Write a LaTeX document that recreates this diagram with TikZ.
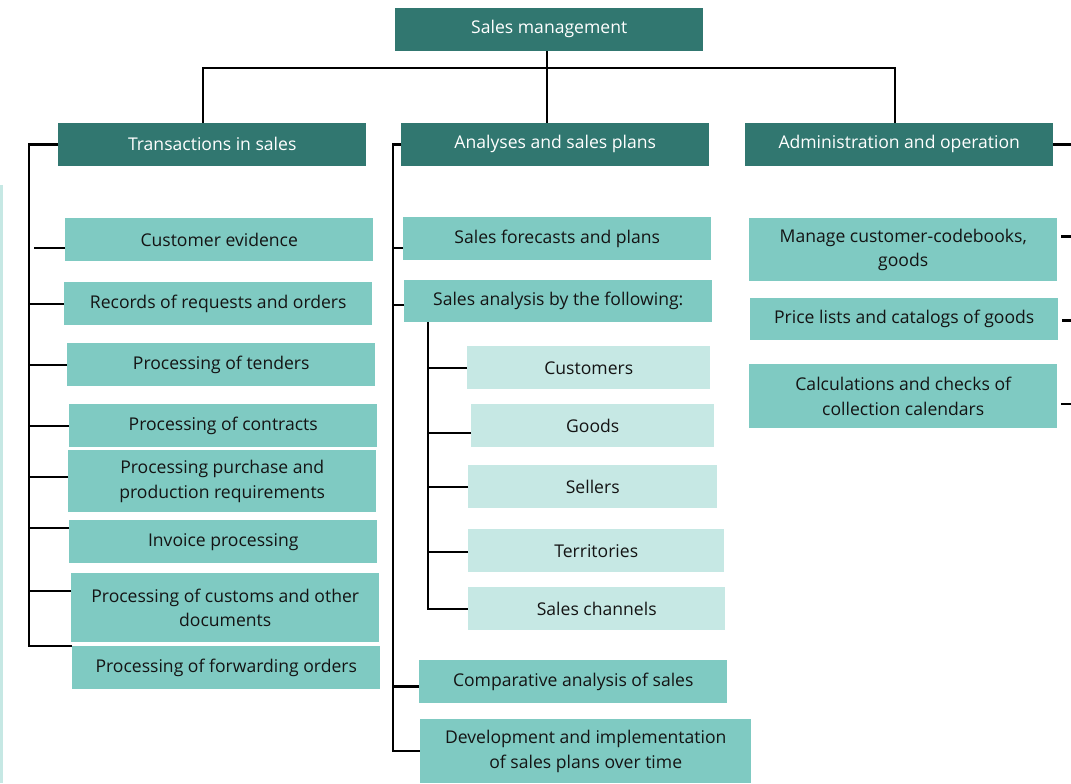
\documentclass[tikz,border=0pt]{standalone}
\usepackage{fontspec}
\setmainfont{Open Sans}
\usetikzlibrary{positioning}
\definecolor{headteal}{RGB}{49,119,112}
\definecolor{itemteal}{RGB}{127,202,194}
\definecolor{subteal}{RGB}{198,232,228}

\begin{document}
\begin{tikzpicture}[
  x=0.03cm, y=-0.03cm,
  box/.style={anchor=north west, align=center, inner sep=0pt, minimum width=9.24cm, minimum height=1.29cm, font=\fontsize{15}{21}\selectfont, text=black!92},
  head/.style={box, fill=headteal, text=white, minimum height=1.27cm},
  item/.style={box, fill=itemteal},
  sub/.style={box, fill=subteal, minimum width=7.29cm},
  link/.style={line width=2pt}
]
\useasboundingbox (0,0) rectangle (1071,783);
\fill[subteal] (0,185) rectangle (3,783);

% top level
\node[head] (root) at (395,8) {Sales management};
\node[head] (trans) at (58,123) {Transactions in sales};
\node[head] (anal) at (401,123) {Analyses and sales plans};
\node[head] (adm) at (745,123) {Administration and operation};

% transactions
\node[item] (cust) at (65,218) {Customer evidence};
\node[item] (recs) at (64,282) {Records of requests and orders};
\node[item] (tend) at (67,343) {Processing of tenders};
\node[item] (contr) at (69,404) {Processing of contracts};
\node[item, minimum height=1.86cm] (purch) at (68,450) {Processing purchase and\\ production requirements};
\node[item] (inv) at (69,520) {Invoice processing};
\node[item, minimum height=2.07cm] (customs) at (71,573) {Processing of customs and other\\ documents};
\node[item] (fwd) at (72,646) {Processing of forwarding orders};

% analyses
\node[item] (fcst) at (403,217) {Sales forecasts and plans};
\node[item, minimum height=1.26cm] (byfol) at (404,280) {Sales analysis by the following:};
\node[sub] (scust) at (467,346) {Customers};
\node[sub] (sgood) at (471,404) {Goods};
\node[sub, minimum width=7.47cm] (ssell) at (468,465) {Sellers};
\node[sub, minimum width=7.68cm] (sterr) at (468,529) {Territories};
\node[sub, minimum width=7.71cm] (schan) at (468,587) {Sales channels};
\node[item] (comp) at (419,660) {Comparative analysis of sales};
\node[item, minimum width=9.93cm, minimum height=1.92cm] (dev) at (420,719) {Development and implementation\\ of sales plans over time};

% administration
\node[item, minimum height=1.89cm] (codeb) at (749,218) {Manage customer-codebooks,\\ goods};
\node[item, minimum height=1.26cm] (price) at (750,298) {Price lists and catalogs of goods};
\node[item, minimum height=1.92cm] (calc) at (749,364) {Calculations and checks of\\ collection calendars};

\coordinate (edge) at (1071,0);

% connectors
\draw[link] ([xshift=-0.06cm]root.south) -- ([xshift=-0.06cm]root.south |- anal.north);
\draw[link] (trans.north) ++(-9,0) -- ++(0,-55) -| ([xshift=-0.12cm]adm.north);

\draw[link] (trans.west) -- ++(-29,0) |- (fwd.north west);
\draw[link] ([yshift=-0.24cm]cust.west) -- ++(-31,0);
\draw[link] (recs.west) -- ++(-35,0);
\draw[link] (tend.west) -- ++(-38,0);
\draw[link] (contr.west) -- ++(-40,0);
\draw[link] ([yshift=0.12cm]purch.west) -- ++(-39,0);
\draw[link] ([yshift=0.42cm]inv.west) -- ++(-40,0);
\draw[link] ([yshift=0.51cm]customs.west) -- ++(-42,0);

\draw[link] (anal.west) -- ++(-8,0) |- (dev.west);
\draw[link] ([yshift=-0.28cm]fcst.west) -- ++(-10,0);
\draw[link] ([yshift=-0.12cm]byfol.west) -- ++(-11,0);
\draw[link] ([yshift=-0.14cm]comp.west) -- ++(-26,0);

\draw[link] (byfol.south west) ++(24,0) |- (schan.west);
\draw[link] (scust.west) -- ++(-39,0);
\draw[link] ([yshift=-0.22cm]sgood.west) -- ++(-43,0);
\draw[link] (ssell.west) -- ++(-40,0);
\draw[link] ([yshift=-0.04cm]sterr.west) -- ++(-40,0);

\draw[link] (adm.east) -- (adm.east -| edge);
\draw[link] ([yshift=0.4cm,xshift=3]codeb.east) -- ([yshift=0.4cm]codeb.east -| edge);
\draw[link] ([yshift=-0.04cm,xshift=3]price.east) -- ([yshift=-0.04cm]price.east -| edge);
\draw[link] ([yshift=-0.24cm,xshift=3]calc.east) -- ([yshift=-0.24cm]calc.east -| edge);
\end{tikzpicture}
\end{document}
